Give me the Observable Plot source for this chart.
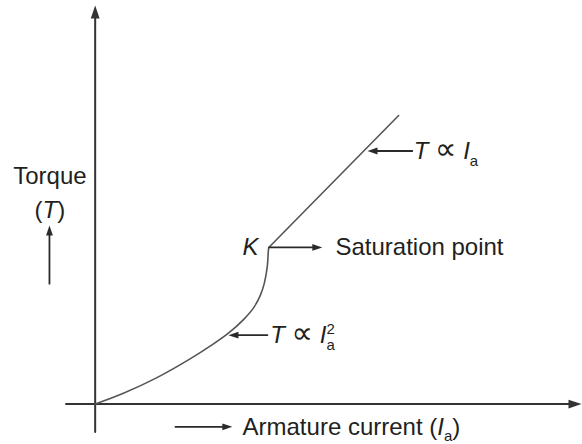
<!DOCTYPE html>
<html><head><meta charset="utf-8">
<script src="https://cdn.jsdelivr.net/npm/d3@7"></script>
<script src="https://cdn.jsdelivr.net/npm/@observablehq/plot@0.6"></script>
<style>body{margin:0;background:#fff} svg{display:block}</style>
</head><body><div id="chart"></div>
<script>
// Torque vs armature current (arbitrary units)
const currentBelowK = [0, 0.58, 1.28, 1.96, 2.37, 2.74, 3.05, 3.26, 3.40, 3.48, 3.54, 3.56, 3.57];
const torqueBelowK  = [0, 0.27, 0.67, 1.14, 1.46, 1.78, 2.12, 2.42, 2.74, 3.04, 3.46, 3.83, 3.93];
const currentAboveK = [3.57, 6.24];
const torqueAboveK  = [3.93, 7.24];
// label texts (*x* = italic, _x = subscript, ^x = superscript)
const labelTexts = ["*T* ∝ *I*_a", "Saturation point", "*T* ∝ *I*_a^2", "*K*", "Armature current (*I*_a)", "Torque", "(*T*)"];

const belowK = currentBelowK.map((x, i) => ({x, y: torqueBelowK[i]}));
const aboveK = currentAboveK.map((x, i) => ({x, y: torqueAboveK[i]}));
const K = belowK[belowK.length - 1];

// annotation layout (data units)
const labels = [
  {t: labelTexts[0], x: 6.55, y: 6.35, a: "start"},
  {t: labelTexts[1], x: 4.94, y: K.y, a: "start"},
  {t: labelTexts[2], x: 3.60, y: 1.73, a: "start"},
  {t: labelTexts[3], x: 3.36, y: K.y, a: "end"},
  {t: labelTexts[4], x: 3.03, y: -0.57, a: "start"},
  {t: labelTexts[5], x: -0.93, y: 5.71, a: "middle"},
  {t: labelTexts[6], x: -0.93, y: 4.86, a: "middle"}
];
const axes = [
  {x1: 0, y1: -0.7, x2: 0, y2: 10, rot: 0},
  {x1: -0.6, y1: 0, x2: 10, y2: 0, rot: 90}
];
const leaders = [
  {x1: 6.52, y1: 6.35, x2: 5.60, y2: 6.35, rot: -90},
  {x1: K.x + 0.01, y1: K.y, x2: 4.67, y2: K.y, rot: 90},
  {x1: 3.54, y1: 1.73, x2: 2.74, y2: 1.73, rot: -90},
  {x1: 1.65, y1: -0.57, x2: 2.82, y2: -0.57, rot: 90},
  {x1: -0.94, y1: 3.02, x2: -0.94, y2: 4.48, rot: 0}
];
// slim filled arrowhead, tip at origin, pointing up
const head = {draw(ctx, size) {
  const r = Math.sqrt(size / Math.PI);
  ctx.moveTo(0, 0); ctx.lineTo(-0.34 * r, r); ctx.lineTo(0.34 * r, r); ctx.closePath();
}};
const ink = "#231f20";
const textMark = (anchor) => Plot.text(labels.filter(d => d.a === anchor),
  {x: "x", y: "y", text: "t", textAnchor: anchor, lineAnchor: "middle", fontSize: 24, fill: ink});

const plot = Plot.plot({
  width: 582, height: 444,
  marginLeft: 65.5, marginRight: 1, marginTop: 5, marginBottom: 12.5,
  x: {domain: [-0.6, 10], axis: null},
  y: {domain: [-0.7, 10], axis: null},
  style: {fontFamily: "'Liberation Sans', Arial, Helvetica, sans-serif", background: "white"},
  marks: [
    Plot.arrow(axes, {x1: "x1", y1: "y1", x2: "x2", y2: "y2", headLength: 0, insetEnd: 6, stroke: "#333", strokeWidth: 2}),
    Plot.dot(axes, {x: "x2", y: "y2", rotate: "rot", symbol: head, r: 13, fill: "#333", stroke: "none"}),
    Plot.line(belowK, {x: "x", y: "y", curve: "catmull-rom", stroke: "#555", strokeWidth: 1.6}),
    Plot.line(aboveK, {x: "x", y: "y", stroke: "#555", strokeWidth: 1.6}),
    Plot.arrow(leaders, {x1: "x1", y1: "y1", x2: "x2", y2: "y2", headLength: 0, insetEnd: 5, stroke: "#2a2a2a", strokeWidth: 1.8}),
    Plot.dot(leaders, {x: "x2", y: "y2", rotate: "rot", symbol: head, r: 10, fill: "#2a2a2a", stroke: "none"}),
    textMark("start"), textMark("middle"), textMark("end")
  ]
});
document.getElementById("chart").append(plot);

// turn the light markup into real tspans
const NS = "http://www.w3.org/2000/svg";
d3.select(plot).selectAll("text").each(function() {
  const src = this.textContent;
  if (!/[*_^∝]/.test(src)) return;
  this.textContent = "";
  const re = /\*([^*]+)\*|_(\w)|\^(\w)|(∝)|([^*_^∝]+)/g;
  let m, shift = 0, prevSub = null;
  while ((m = re.exec(src))) {
    const ts = document.createElementNS(NS, "tspan");
    let target = 0;
    if (m[1] !== undefined) { ts.textContent = m[1]; ts.setAttribute("font-style", "italic"); }
    else if (m[2] !== undefined) { ts.textContent = m[2]; ts.setAttribute("font-size", 15); target = 7; }
    else if (m[3] !== undefined) {
      ts.textContent = m[3]; ts.setAttribute("font-size", 15); target = -9;
      if (prevSub) ts.setAttribute("dx", -prevSub.getComputedTextLength());
    }
    else if (m[4] !== undefined) { ts.textContent = m[4]; ts.setAttribute("font-family", "'DejaVu Sans', sans-serif"); ts.setAttribute("font-size", 30); }
    else ts.textContent = m[5];
    if (target !== shift) ts.setAttribute("dy", target - shift);
    shift = target;
    this.appendChild(ts);
    prevSub = m[2] !== undefined ? ts : null;
  }
});
</script>
</body></html>
